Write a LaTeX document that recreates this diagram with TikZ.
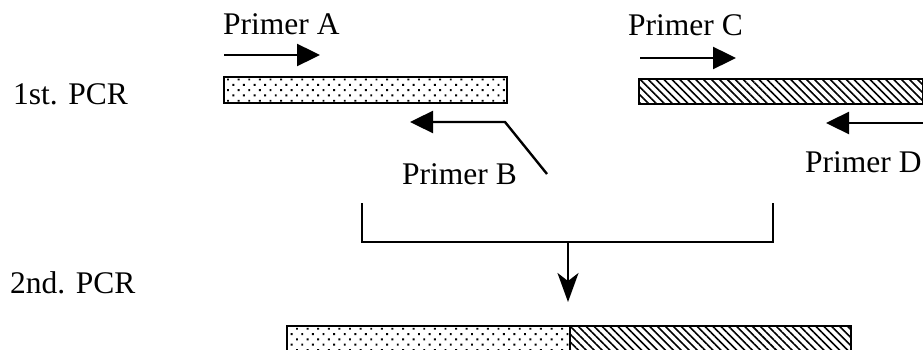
\documentclass[tikz,border=0pt]{standalone}
\usepackage{fontspec}
\setmainfont{Liberation Serif}
\usetikzlibrary{arrows.meta,patterns.meta}

\tikzset{
  lbl/.style={inner sep=0pt, anchor=base west, font=\fontsize{31.5}{37}\selectfont},
  strand/.style={draw, line width=2pt, inner sep=0pt, anchor=north west},
  dotfill/.style={pattern={Dots[angle=45, distance=7.5pt, radius=1.35pt]}},
  hatchfill/.style={pattern={Lines[angle=-45, distance=5.6pt, line width=1.6pt]}},
  primer/.style={line width=2.4pt, -{Triangle[length=23pt, width=22pt]}},
  joinline/.style={line width=2.2pt},
  merge/.style={line width=2.2pt, -{Stealth[length=29pt, width=21pt, inset=8pt]}}
}

\begin{document}
\begin{tikzpicture}[x=1pt, y=-1pt]
  \clip (0,0) rectangle (923,350);
  \fill[white] (0,0) rectangle (923,350);

  % row labels
  \node[lbl] (first)  at (13,105) {1st. PCR};
  \node[lbl] (second) at (10,293) {2nd. PCR};

  % first PCR products
  \node[strand, dotfill,   minimum width=283pt, minimum height=26pt] (boxA) at (223,76) {};
  \node[strand, hatchfill, minimum width=284pt, minimum height=25pt] (boxC) at (638,78) {};

  % primer labels
  \node[lbl] (labA) at (223,35)  {Primer A};
  \node[lbl] (labC) at (628,36)  {Primer C};
  \node[lbl] (labB) at (402,184) {Primer B};
  \node[lbl] (labD) at (805,172) {Primer D};

  % primer arrows
  \coordinate (aS) at (224,55);  \coordinate (aE) at (320,55);
  \coordinate (cS) at (640,58);  \coordinate (cE) at (736,58);
  \coordinate (bS) at (547,174); \coordinate (bK) at (505,122); \coordinate (bE) at (410,122);
  \coordinate (dS) at (925,123); \coordinate (dE) at (826,123);
  \draw[primer] (aS) -- (aE);
  \draw[primer] (cS) -- (cE);
  \draw[primer] (bS) -- (bK) -- (bE);
  \draw[primer] (dS) -- (dE);

  % joining bracket and arrow to the second PCR
  \coordinate (jL) at (362,203); \coordinate (jLb) at (362,242);
  \coordinate (jR) at (773,203); \coordinate (jRb) at (773,242);
  \coordinate (jM) at (568,242); \coordinate (jT) at (568,302);
  \draw[joinline] (jL) -- (jLb) -- (jRb) -- (jR);
  \draw[merge] (jM) -- (jT);

  % second PCR product (fused)
  \node[strand, dotfill,   minimum width=283pt, minimum height=27pt] (boxL) at (286,325) {};
  \node[strand, hatchfill, minimum width=281pt, minimum height=27pt] (boxR) at (569,325) {};
\end{tikzpicture}
\end{document}
